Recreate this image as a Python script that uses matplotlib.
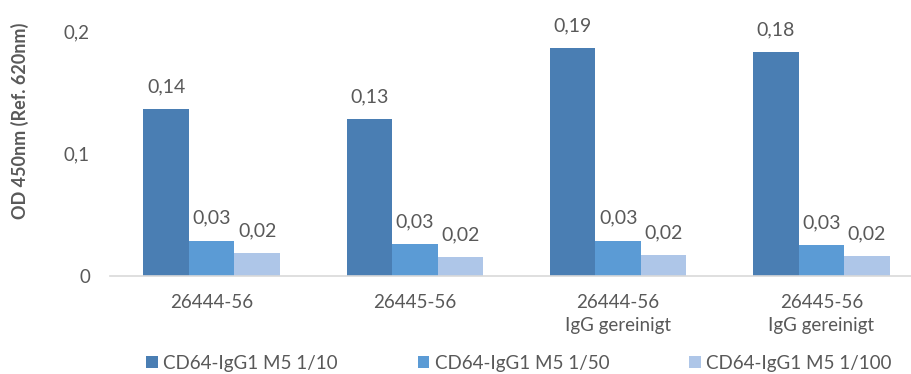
import matplotlib
matplotlib.use("Agg")
import matplotlib.pyplot as plt
import numpy as np

plt.rcParams['font.family'] = ['Lato', 'DejaVu Sans']

categories = ["26444-56", "26445-56", "26444-56\nIgG gereinigt", "26445-56\nIgG gereinigt"]
series_names = ["CD64-IgG1 M5 1/10", "CD64-IgG1 M5 1/50", "CD64-IgG1 M5 1/100"]
dil_10 = [0.136, 0.128, 0.186, 0.183]
dil_50 = [0.0288, 0.0261, 0.0288, 0.0252]
dil_100 = [0.0188, 0.0152, 0.0171, 0.0161]
y_ticks = [0, 0.1, 0.2]
y_tick_labels = ["0", "0,1", "0,2"]

colors = ["#4a7eb3", "#5b9bd5", "#aec6e8"]
text_color = "#595959"
fs = 13.5

fig = plt.figure(figsize=(9.11, 3.74), dpi=100)
ax = fig.add_axes([110 / 911, 98 / 374, 813 / 911, 245 / 374])

x = np.arange(len(categories))
w = 0.224
series = [dil_10, dil_50, dil_100]
for i, (vals, name, c) in enumerate(zip(series, series_names, colors)):
    pos = x + (i - 1) * w
    ax.bar(pos, vals, width=w, color=c, label=name, zorder=2)
    for px, v in zip(pos, vals):
        ax.annotate(f"{v:.2f}".replace(".", ","), (px, v), xytext=(0, 12.2),
                    textcoords="offset points", ha="center", va="baseline",
                    fontsize=14, color=text_color, annotation_clip=False)

ax.set_xlim(-0.5, len(categories) - 0.5)
ax.set_ylim(0, 0.2)
ax.set_yticks(y_ticks)
ax.set_yticklabels(y_tick_labels)
ax.set_xticks(x)
ax.set_xticklabels(categories, linespacing=1.4)
ax.tick_params(axis="both", length=0, labelsize=fs, labelcolor=text_color)
ax.tick_params(axis="y", pad=14.4)
ax.tick_params(axis="x", pad=13)

for s in ["top", "right", "left"]:
    ax.spines[s].set_visible(False)
ax.spines["bottom"].set_color("#d9d9d9")
ax.spines["bottom"].set_linewidth(1.2)
ax.spines["bottom"].set_zorder(3)

fig.text(20 / 911, 1 - 121 / 374, "OD 450nm (Ref. 620nm)", rotation=90,
         ha="center", va="center", fontsize=13, fontweight="bold", color=text_color)

leg = fig.legend(loc="center left", bbox_to_anchor=(146 / 911, 1 - 363 / 374), ncol=3,
                 frameon=False, fontsize=fs, handlelength=0.62, handleheight=0.62,
                 handletextpad=0.3, columnspacing=4.25, borderaxespad=0, borderpad=0)
for t in leg.get_texts():
    t.set_color(text_color)

fig.savefig("out.png", dpi=100)
